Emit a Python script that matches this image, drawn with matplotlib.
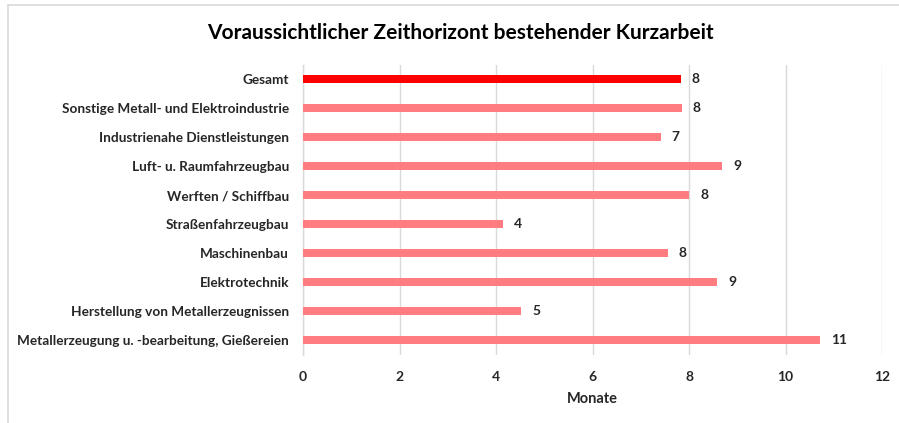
import matplotlib
matplotlib.use("Agg")
import matplotlib.pyplot as plt
from matplotlib.patches import Rectangle

categories = [
    "Gesamt",
    "Sonstige Metall- und Elektroindustrie",
    "Industrienahe Dienstleistungen",
    "Luft- u. Raumfahrzeugbau",
    "Werften / Schiffbau",
    "Straßenfahrzeugbau",
    "Maschinenbau",
    "Elektrotechnik",
    "Herstellung von Metallerzeugnissen",
    "Metallerzeugung u. -bearbeitung, Gießereien",
]
values = [7.83, 7.85, 7.41, 8.68, 8.01, 4.15, 7.56, 8.58, 4.52, 10.72]
labels = ["8", "8", "7", "9", "8", "4", "8", "9", "5", "11"]
xticks = [0, 2, 4, 6, 8, 10, 12]

plt.rcParams['font.family'] = ['Lato', 'DejaVu Sans']

W, H = 899, 423
fig = plt.figure(figsize=(W / 100, H / 100), dpi=100)
fig.patch.set_facecolor("white")

# outer frame
fig.patches.append(Rectangle((8 / W, -0.05), 1.2, 1 - 5 / H + 0.05, transform=fig.transFigure,
                             fill=False, edgecolor="#D9D9D9", linewidth=1.2))

left, right = 303 / W, 882 / W
top, bottom = 1 - 64.5 / H, 1 - 354.5 / H
ax = fig.add_axes([left, bottom, right - left, top - bottom])

n = len(categories)
ypos = list(range(n))
colors = ["#FF0000"] + ["#FF7C80"] * (n - 1)
ax.barh(ypos, values, height=0.31, color=colors, zorder=3)
ax.set_ylim(n - 0.5, -0.5)
ax.set_xlim(0, 12)
ax.set_xticks(xticks)
ax.set_xticklabels([str(t) for t in xticks], fontsize=10, fontweight="bold", color="#262626")
ax.set_yticks(ypos)
ax.set_yticklabels(categories, fontsize=9.8, fontweight="bold", color="#262626")
ax.tick_params(axis="both", length=0)
ax.tick_params(axis="x", pad=12)
ax.tick_params(axis="y", pad=10)
ax.grid(axis="x", color="#D9D9D9", linewidth=1, zorder=0)
for s in ["top", "right", "bottom"]:
    ax.spines[s].set_visible(False)
ax.spines["left"].set_color("#D9D9D9")
ax.spines["left"].set_linewidth(1)

for y, v, lab in zip(ypos, values, labels):
    ax.annotate(lab, xy=(v, y), xytext=(8, 0), textcoords="offset points",
                va="center", ha="left", fontsize=10, fontweight="bold", color="#262626")

ax.set_xlabel("Monate", fontsize=10.5, fontweight="bold", color="#262626", labelpad=6)

fig.text(0.5 * (205 + 715) / W, 1 - 33 / H, "Voraussichtlicher Zeithorizont bestehender Kurzarbeit",
         ha="center", va="center", fontsize=15, fontweight="bold", color="#000000")

fig.savefig("out.png", dpi=100)
